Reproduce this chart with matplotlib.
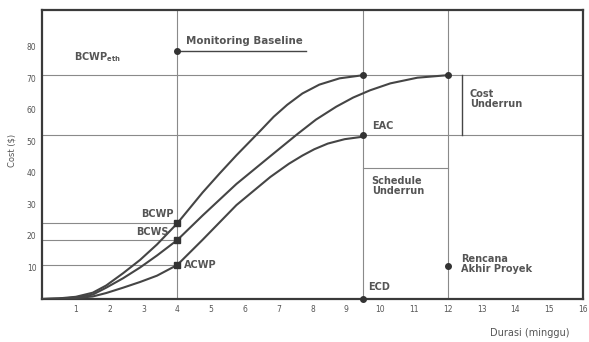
import numpy as np
import matplotlib
matplotlib.use("Agg")
import matplotlib.pyplot as plt

# curves (minggu, cost)
bcwp_x = [0, 0.5, 1.0, 1.5, 1.9, 2.4, 2.9, 3.4, 4.0, 4.75, 5.25, 5.75, 6.45, 6.85, 7.25,
          7.7, 8.2, 8.8, 9.5]
bcwp_y = [0, 0.2, 0.7, 2.0, 4.3, 8.2, 12.4, 17.3, 24.0, 33.8, 39.8, 45.6, 53.3, 57.8, 61.6,
          65.2, 68.0, 70.0, 71.0]

bcws_x = [0, 0.5, 1.0, 1.5, 1.9, 2.4, 2.9, 3.4, 4.0, 4.75, 5.75, 6.75, 7.55, 8.1, 8.7, 9.2,
          9.7, 10.3, 11.1, 12.0]
bcws_y = [0, 0.1, 0.5, 1.4, 3.6, 6.6, 10.0, 13.8, 18.7, 26.5, 36.5, 45.3, 52.3, 56.9, 61.0,
          63.9, 66.2, 68.4, 70.2, 71.0]

acwp_x = [0, 0.5, 1.0, 1.5, 1.9, 2.4, 2.9, 3.4, 4.0, 4.75, 5.75, 6.75, 7.3, 7.7, 8.05, 8.45,
          8.95, 9.5]
acwp_y = [0, 0.1, 0.3, 0.8, 1.9, 3.6, 5.4, 7.4, 10.8, 18.8, 29.8, 38.7, 42.9, 45.5, 47.5, 49.3,
          50.7, 51.5]

# reference levels / times
t_now = 4.0
t_ecd = 9.5
t_plan = 12.0
bac = 71.0
eac = 52.0
baseline_y = 78.7
schedule_y = 41.6
plan_end_y = 10.5

x_ticks = list(range(1, 17))
y_ticks = [10, 20, 30, 40, 50, 60, 70, 80]

line_c = "#454545"
text_c = "#555555"
grid_c = "#8a8a8a"

fig = plt.figure(figsize=(5.89, 3.42), dpi=100)
ax = fig.add_axes([0.0713, 0.1257, 0.9187, 0.8453])
ax.set_xlim(0, 16)
ax.set_ylim(0, 91.7)

# grid-like reference lines
for xv in [t_now, t_ecd, t_plan]:
    ax.axvline(xv, color=grid_c, lw=0.8, zorder=1)
for yv in [bac, eac]:
    ax.axhline(yv, color=grid_c, lw=0.8, zorder=1)

# curves
for cx, cy in [(bcwp_x, bcwp_y), (bcws_x, bcws_y), (acwp_x, acwp_y)]:
    ax.plot(cx, cy, color=line_c, lw=1.5, zorder=3, solid_joinstyle="round")

# values at status date
now_vals = [np.interp(t_now, bcwp_x, bcwp_y), np.interp(t_now, bcws_x, bcws_y),
            np.interp(t_now, acwp_x, acwp_y)]
for v in now_vals:
    ax.plot([0, t_now], [v, v], color=grid_c, lw=0.8, zorder=1)
    ax.plot(t_now, v, marker="s", ms=4, color="#333333", zorder=4)

ax.text(3.9, now_vals[0] + 1.3, "BCWP", ha="right", va="bottom", fontsize=7,
        fontweight="bold", color=text_c)
ax.text(3.75, now_vals[1] + 1.0, "BCWS", ha="right", va="bottom", fontsize=7,
        fontweight="bold", color=text_c)
ax.text(4.2, now_vals[2], "ACWP", ha="left", va="center", fontsize=7,
        fontweight="bold", color=text_c)

# end points
ax.plot([t_ecd, t_plan, t_ecd], [bac, bac, eac], "o", ms=4, color="#333333", zorder=4)
ax.plot(t_ecd, 0, "o", ms=4, color="#333333", zorder=4, clip_on=False)
ax.plot(t_plan, plan_end_y, "o", ms=4, color="#333333", zorder=4)

# monitoring baseline
ax.plot(t_now, baseline_y, "o", ms=4, color="#333333", zorder=4)
ax.plot([t_now, 7.8], [baseline_y, baseline_y], color=line_c, lw=1.0)
ax.text(4.25, baseline_y + 1.5, "Monitoring Baseline", fontsize=7.4, fontweight="bold",
        color=text_c, va="bottom")
ax.text(0.95, 74.5, r"$\mathbf{BCWP}_{\mathbf{eth}}$", fontsize=7, color=text_c, va="bottom")

# cost underrun box
ax.plot([12.43, 12.43], [eac, bac], color=line_c, lw=1.0)
ax.text(12.65, 63.5, "Cost\nUnderrun", fontsize=7, fontweight="bold", color=text_c,
        va="center", linespacing=1.0)

# schedule underrun
ax.plot([t_ecd, t_plan], [schedule_y, schedule_y], color=grid_c, lw=0.8)
ax.text(9.75, 36.0, "Schedule\nUnderrun", fontsize=7, fontweight="bold", color=text_c,
        va="center", linespacing=1.0)

ax.text(9.75, 55.0, "EAC", fontsize=7, fontweight="bold", color=text_c, va="center")
ax.text(9.65, 3.8, "ECD", fontsize=7, fontweight="bold", color=text_c, va="center")
ax.text(12.4, 11.2, "Rencana\nAkhir Proyek", fontsize=7, fontweight="bold", color=text_c,
        va="center", linespacing=0.95)

ax.set_xticks(x_ticks)
ax.set_yticks(y_ticks)
ax.tick_params(length=0, labelsize=5.5, labelcolor=text_c, pad=4)
for s in ax.spines.values():
    s.set_linewidth(1.6)
    s.set_color("#3a3a3a")

fig.text(0.02, 0.56, "Cost ($)", rotation=90, fontsize=6, color=text_c,
         ha="center", va="center")
fig.text(0.9, 0.027, "Durasi (minggu)", fontsize=7, color=text_c, ha="center", va="center")

fig.savefig("out.png", dpi=100)
